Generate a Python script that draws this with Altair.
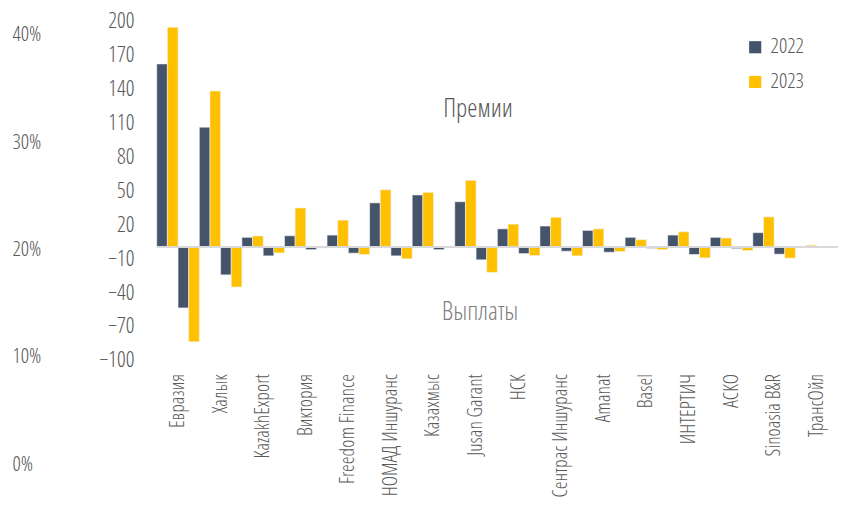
import altair as alt
import pandas as pd

companies = ["Евразия", "Халык", "KazakhExport", "Виктория", "Freedom Finance",
             "НОМАД Иншуранс", "Казахмыс", "Jusan Garant", "НСК", "Сентрас Иншуранс",
             "Amanat", "Basel", "ИНТЕРТИЧ", "АСКО", "Sinoasia B&R", "ТрансОйл"]
premiums_2022 = [162, 106, 8.5, 9.9, 10.5, 39, 46, 40, 16, 18.5, 14.6, 8.5, 10.5, 8.5, 12.6, 0.5]
premiums_2023 = [194.5, 138, 9.7, 34.5, 23.7, 50.6, 48.3, 59, 20.2, 26.3, 16, 6.4, 13.4, 7.9, 26.6, 1.5]
payouts_2022 = [-54, -24.7, -7.9, -2.4, -5.5, -7.9, -2.4, -11.4, -5.9, -3.8, -4.7, -1.2, -6.7, -1.5, -6.4, -0.3]
payouts_2023 = [-84, -35.5, -5.3, -1.0, -6.7, -10.5, -0.5, -22.5, -7.6, -7.9, -4.1, -2.4, -9.7, -3.2, -9.9, -0.5]
years = ["2022", "2023"]
left_ticks = [200, 170, 140, 110, 80, 50, 20, -10, -40, -70, -100]
pct_ticks = [0, 0.1, 0.2, 0.3, 0.4]
label_prem = "Премии"
label_pay = "Выплаты"

rows = []
for i, c in enumerate(companies):
    rows.append({"company": c, "series": "p2022", "year": "2022", "value": premiums_2022[i]})
    rows.append({"company": c, "series": "p2023", "year": "2023", "value": premiums_2023[i]})
    rows.append({"company": c, "series": "v2022", "year": "2022", "value": payouts_2022[i]})
    rows.append({"company": c, "series": "v2023", "year": "2023", "value": payouts_2023[i]})
df = pd.DataFrame(rows)
cat_df = pd.DataFrame({"company": companies})
pct_df = pd.DataFrame({"p": pct_ticks})
zero_df = pd.DataFrame({"v": [0]})

FONT = "Open Sans Condensed Light, Open Sans Condensed, DejaVu Sans Condensed, sans-serif"
W = 300
GREY = "#595959"
ymain = alt.Scale(domain=[-192.3, 200], nice=False, zero=False)
xscale = alt.Scale(domain=companies, paddingInner=0.0, paddingOuter=0.0)
yaxis = alt.Axis(orient="left", values=left_ticks, title=None, domain=False,
                 ticks=False, grid=False, labelPadding=23, labelFontSize=22,
                 labelFontWeight=W, labelColor=GREY, labelFont=FONT)

bars = alt.Chart(df).mark_bar(stroke="#F2F2F2", strokeWidth=0.6).encode(
    x=alt.X("company:N", sort=companies, scale=xscale, axis=None),
    xOffset=alt.XOffset("series:N", sort=["p2022", "p2023", "v2022", "v2023"],
                        scale=alt.Scale(paddingInner=0.0, paddingOuter=0.0)),
    y=alt.Y("value:Q", scale=ymain, axis=yaxis),
    color=alt.Color("year:N", scale=alt.Scale(domain=years, range=["#44546A", "#FFC000"]),
                    legend=alt.Legend(title=None, orient="none", legendX=593, legendY=16,
                                      symbolType="square", symbolSize=150, symbolStrokeWidth=0,
                                      labelFontSize=21, labelFontWeight=W, labelColor=GREY,
                                      labelFont=FONT, rowPadding=13, labelOffset=5)),
)

zero = alt.Chart(zero_df).mark_rule(color="#D9D9D9", strokeWidth=2).encode(
    y=alt.Y("v:Q", scale=ymain, axis=yaxis)
)

labels = alt.Chart(cat_df).mark_text(
    angle=270, align="right", baseline="middle", fontSize=20, fontWeight=W,
    color=GREY, font=FONT
).encode(
    x=alt.X("company:N", sort=companies, scale=xscale, axis=None),
    y=alt.Y("yy:Q", scale=ymain, axis=yaxis),
    text="company:N",
).transform_calculate(yy="-112.5")

ann1 = alt.Chart(pd.DataFrame({"t": [label_prem], "c": ["Jusan Garant"], "v": [122]})).mark_text(
    fontSize=26, fontWeight=W, color=GREY, font=FONT, dx=2
).encode(x=alt.X("c:N", scale=xscale, axis=None), y=alt.Y("v:Q", scale=ymain, axis=yaxis), text="t:N")

ann2 = alt.Chart(pd.DataFrame({"t": [label_pay], "c": ["Jusan Garant"], "v": [-58]})).mark_text(
    fontSize=26, fontWeight=W, color="#7F7F7F", font=FONT, dx=4
).encode(x=alt.X("c:N", scale=xscale, axis=None), y=alt.Y("v:Q", scale=ymain, axis=yaxis), text="t:N")

main = alt.layer(bars, zero, labels, ann1, ann2)

pct = alt.Chart(pct_df).mark_point(opacity=0).encode(
    x=alt.value(0),
    y=alt.Y("p:Q", scale=alt.Scale(domain=[0, 0.4129], nice=False),
            axis=alt.Axis(orient="left", values=pct_ticks, format=".0%", title=None,
                          domain=False, ticks=False, grid=False, labelPadding=146,
                          labelAlign="left", labelFontSize=21, labelFontWeight=W,
                          labelColor=GREY, labelFont=FONT))
)

chart = alt.layer(main, pct).resolve_scale(y="independent").properties(
    width=687, height=447, background="white",
    autosize=alt.AutoSizeParams(type="none"),
    padding={"left": 150, "top": 11, "right": 0, "bottom": 32},
).configure_view(stroke=None).configure_axis(domain=False, ticks=False, grid=False)

chart.save("out.html", embed_options={"renderer": "svg", "actions": False})
